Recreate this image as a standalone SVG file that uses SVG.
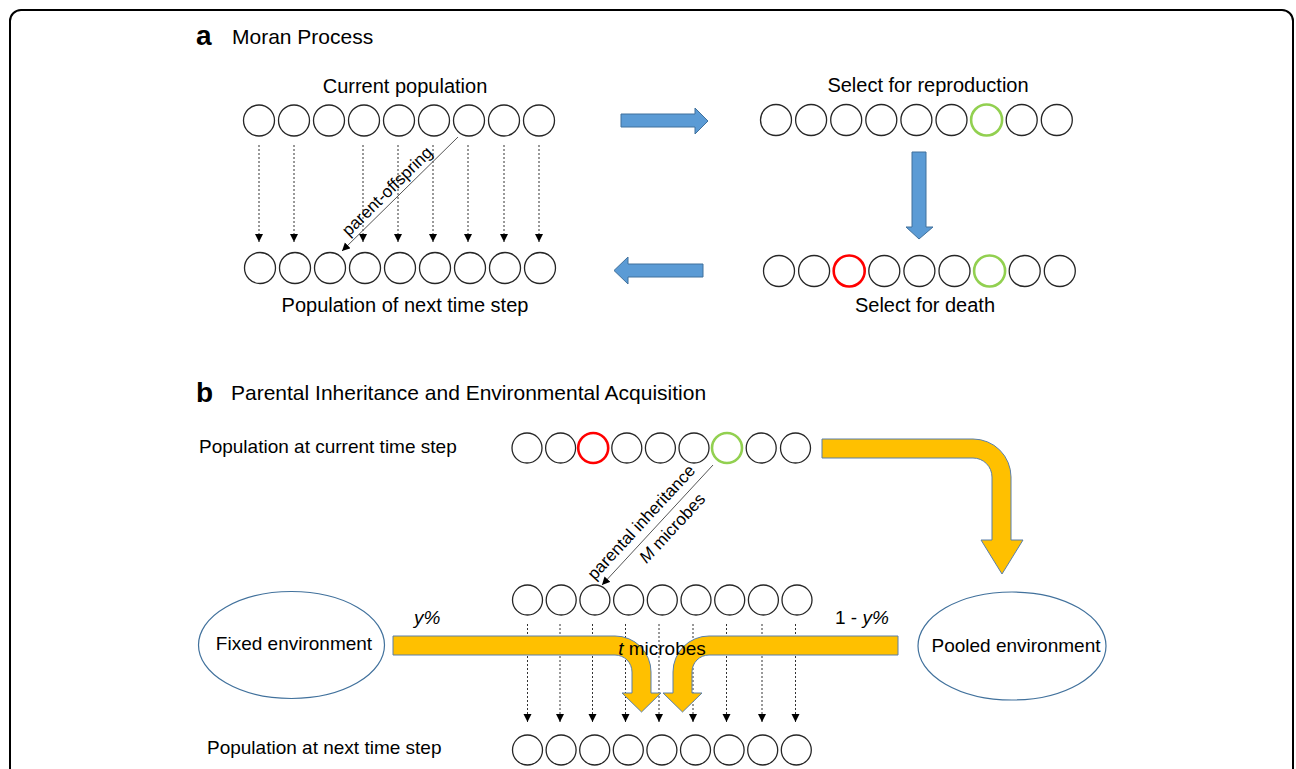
<svg xmlns="http://www.w3.org/2000/svg" width="1296" height="769" viewBox="0 0 1296 769">
<style>
text{font-family:"Liberation Sans",Arial,sans-serif;fill:#000}
.c{fill:#fff;stroke:#262626;stroke-width:1.3}
.g{fill:#fff;stroke:#92D050;stroke-width:2.6}
.r{fill:#fff;stroke:#FF0000;stroke-width:2.6}
.dot{stroke:#333;stroke-width:1;stroke-dasharray:2 2;fill:none}
.diag{stroke:#555;stroke-width:1;fill:none}
.blue{fill:#5B9BD5;stroke:#41719C;stroke-width:1}
.yel{fill:#FFC000;stroke:#5B7FA8;stroke-width:1}
.env{fill:#fff;stroke:#41719C;stroke-width:1.2}
.lbl{font-size:20px}
.lb{font-size:19px}
.hd{font-size:21px}
.let{font-size:28px;font-weight:bold}
.rot{font-size:17px}
</style>
<defs>
<marker id="ah" markerUnits="userSpaceOnUse" markerWidth="9" markerHeight="9" refX="8" refY="4" orient="auto">
<path d="M0,0 L8,4 L0,8 Z" fill="#000" stroke="none"/>
</marker>
</defs>
<rect x="10" y="10" width="1283" height="800" rx="11" fill="none" stroke="#000" stroke-width="2"/>

<g id="title-a"><text class="let" x="196" y="45">a</text><text class="hd" x="232" y="44">Moran Process</text></g>
<g id="title-b"><text class="let" x="196" y="402">b</text><text class="hd" x="231" y="400">Parental Inheritance and Environmental Acquisition</text></g>

<g id="connectors">
<g id="a-dotted">
<line class="dot" x1="259" y1="145" x2="259" y2="242" marker-end="url(#ah)"/>
<line class="dot" x1="294" y1="145" x2="294" y2="242" marker-end="url(#ah)"/>
<line class="dot" x1="363" y1="145" x2="363" y2="242" marker-end="url(#ah)"/>
<line class="dot" x1="398" y1="145" x2="398" y2="242" marker-end="url(#ah)"/>
<line class="dot" x1="433" y1="145" x2="433" y2="242" marker-end="url(#ah)"/>
<line class="dot" x1="468" y1="145" x2="468" y2="242" marker-end="url(#ah)"/>
<line class="dot" x1="504" y1="145" x2="504" y2="242" marker-end="url(#ah)"/>
<line class="dot" x1="539" y1="145" x2="539" y2="242" marker-end="url(#ah)"/>
</g>
<line class="diag" x1="458" y1="137" x2="342" y2="251" marker-end="url(#ah)"/>
<path class="blue" d="M621,114 L695,114 L695,108 L708,121 L695,134 L695,127 L621,127 Z"/>
<path class="blue" d="M912,152 L926,152 L926,227 L933,227 L919,239 L906,227 L912,227 Z"/>
<path class="blue" d="M703,264 L628,264 L628,257 L614,270.5 L628,284 L628,277 L703,277 Z"/>
<line class="diag" x1="713" y1="465" x2="602" y2="585" marker-end="url(#ah)"/>
<path class="yel" d="M822,439 L973,439 A38,38 0 0 1 1011,477 L1011,540 L1023,540 L1002,574 L981,540 L992,540 L992,477 A19,19 0 0 0 973,458 L822,458 Z"/>
<g id="b-dotted">
<line class="dot" x1="527.5" y1="624" x2="527.5" y2="722" marker-end="url(#ah)"/>
<line class="dot" x1="560" y1="624" x2="560" y2="722" marker-end="url(#ah)"/>
<line class="dot" x1="592.5" y1="624" x2="592.5" y2="722" marker-end="url(#ah)"/>
<line class="dot" x1="625.5" y1="624" x2="625.5" y2="722" marker-end="url(#ah)"/>
<line class="dot" x1="659" y1="624" x2="659" y2="722" marker-end="url(#ah)"/>
<line class="dot" x1="693" y1="624" x2="693" y2="722" marker-end="url(#ah)"/>
<line class="dot" x1="726.5" y1="624" x2="726.5" y2="722" marker-end="url(#ah)"/>
<line class="dot" x1="762" y1="624" x2="762" y2="722" marker-end="url(#ah)"/>
<line class="dot" x1="795.5" y1="624" x2="795.5" y2="722" marker-end="url(#ah)"/>
</g>
<path class="yel" d="M393,636 L615,636 A36,36 0 0 1 651,672 L651,693 L661,693 L641.5,712 L622,693 L632,693 L632,672 A17,17 0 0 0 615,655 L393,655 Z"/>
<path class="yel" d="M898,636 L709,636 A36,36 0 0 0 673,672 L673,693 L663,693 L682.5,712 L702,693 L692,693 L692,672 A17,17 0 0 1 709,655 L898,655 Z"/>
</g>

<g id="labels">
<text class="lbl" x="405" y="93" text-anchor="middle">Current population</text>
<text class="lbl" x="928" y="92" text-anchor="middle">Select for reproduction</text>
<text class="lbl" x="405" y="312" text-anchor="middle">Population of next time step</text>
<text class="lbl" x="925" y="312" text-anchor="middle">Select for death</text>
<text class="rot" transform="translate(387,191) rotate(-44.5)" x="0" y="6" text-anchor="middle">parent-offspring</text>
<text class="lb" x="199" y="453">Population at current time step</text>
<text class="lb" x="207" y="754">Population at next time step</text>
<text class="rot" transform="translate(641,522) rotate(-47.2)" x="0" y="6" text-anchor="middle">parental inheritance</text>
<text class="rot" transform="translate(672,528) rotate(-47.2)" x="0" y="6" text-anchor="middle"><tspan font-style="italic">M</tspan> microbes</text>
<text class="lb" x="414" y="624" font-style="italic">y%</text>
<text class="lb" x="835" y="624">1 - <tspan font-style="italic">y%</tspan></text>
<text class="lb" x="662" y="655" text-anchor="middle"><tspan font-style="italic">t</tspan> microbes</text>
</g>

<g id="fixed-env"><ellipse class="env" cx="291.5" cy="645" rx="93" ry="53.5"/><text class="lb" x="294" y="650" text-anchor="middle">Fixed environment</text></g>
<g id="pooled-env"><ellipse class="env" cx="1012" cy="646" rx="94" ry="54"/><text class="lb" x="1016" y="652" text-anchor="middle">Pooled environment</text></g>

<g id="a-current">
<g id="a-cur-0"><circle class="c" cx="259" cy="120.5" r="15.5"/></g>
<g id="a-cur-1"><circle class="c" cx="294" cy="120.5" r="15.5"/></g>
<g id="a-cur-2"><circle class="c" cx="329" cy="120.5" r="15.5"/></g>
<g id="a-cur-3"><circle class="c" cx="364" cy="120.5" r="15.5"/></g>
<g id="a-cur-4"><circle class="c" cx="399" cy="120.5" r="15.5"/></g>
<g id="a-cur-5"><circle class="c" cx="434" cy="120.5" r="15.5"/></g>
<g id="a-cur-6"><circle class="c" cx="469" cy="120.5" r="15.5"/></g>
<g id="a-cur-7"><circle class="c" cx="504" cy="120.5" r="15.5"/></g>
<g id="a-cur-8"><circle class="c" cx="539" cy="120.5" r="15.5"/></g>
</g>
<g id="a-next">
<g id="a-nxt-0"><circle class="c" cx="260" cy="268" r="15.5"/></g>
<g id="a-nxt-1"><circle class="c" cx="295" cy="268" r="15.5"/></g>
<g id="a-nxt-2"><circle class="c" cx="330" cy="268" r="15.5"/></g>
<g id="a-nxt-3"><circle class="c" cx="365" cy="268" r="15.5"/></g>
<g id="a-nxt-4"><circle class="c" cx="400" cy="268" r="15.5"/></g>
<g id="a-nxt-5"><circle class="c" cx="435" cy="268" r="15.5"/></g>
<g id="a-nxt-6"><circle class="c" cx="470" cy="268" r="15.5"/></g>
<g id="a-nxt-7"><circle class="c" cx="505" cy="268" r="15.5"/></g>
<g id="a-nxt-8"><circle class="c" cx="540" cy="268" r="15.5"/></g>
</g>
<g id="a-repro">
<g id="a-rep-0"><circle class="c" cx="776" cy="120" r="15.5"/></g>
<g id="a-rep-1"><circle class="c" cx="811.1" cy="120" r="15.5"/></g>
<g id="a-rep-2"><circle class="c" cx="846.2" cy="120" r="15.5"/></g>
<g id="a-rep-3"><circle class="c" cx="881.3" cy="120" r="15.5"/></g>
<g id="a-rep-4"><circle class="c" cx="916.4" cy="120" r="15.5"/></g>
<g id="a-rep-5"><circle class="c" cx="951.5" cy="120" r="15.5"/></g>
<g id="a-rep-6"><circle class="g" cx="986.6" cy="120" r="15.5"/></g>
<g id="a-rep-7"><circle class="c" cx="1021.7" cy="120" r="15.5"/></g>
<g id="a-rep-8"><circle class="c" cx="1056.8" cy="120" r="15.5"/></g>
</g>
<g id="a-death">
<g id="a-dth-0"><circle class="c" cx="779" cy="271" r="15.5"/></g>
<g id="a-dth-1"><circle class="c" cx="814.1" cy="271" r="15.5"/></g>
<g id="a-dth-2"><circle class="r" cx="849.2" cy="271" r="15.5"/></g>
<g id="a-dth-3"><circle class="c" cx="884.3" cy="271" r="15.5"/></g>
<g id="a-dth-4"><circle class="c" cx="919.4" cy="271" r="15.5"/></g>
<g id="a-dth-5"><circle class="c" cx="954.5" cy="271" r="15.5"/></g>
<g id="a-dth-6"><circle class="g" cx="989.6" cy="271" r="15.5"/></g>
<g id="a-dth-7"><circle class="c" cx="1024.7" cy="271" r="15.5"/></g>
<g id="a-dth-8"><circle class="c" cx="1059.8" cy="271" r="15.5"/></g>
</g>

<g id="b-current">
<g id="b-cur-0"><circle class="c" cx="527" cy="448" r="15"/></g>
<g id="b-cur-1"><circle class="c" cx="560.6" cy="448" r="15"/></g>
<g id="b-cur-2"><circle class="r" cx="593.2" cy="448" r="15"/></g>
<g id="b-cur-3"><circle class="c" cx="626.8" cy="448" r="15"/></g>
<g id="b-cur-4"><circle class="c" cx="660.4" cy="448" r="15"/></g>
<g id="b-cur-5"><circle class="c" cx="694" cy="448" r="15"/></g>
<g id="b-cur-6"><circle class="g" cx="727" cy="448" r="15"/></g>
<g id="b-cur-7"><circle class="c" cx="761.2" cy="448" r="15"/></g>
<g id="b-cur-8"><circle class="c" cx="795.5" cy="448" r="15"/></g>
</g>
<g id="b-offspring">
<g id="b-off-0"><circle class="c" cx="527.5" cy="600" r="15"/></g>
<g id="b-off-1"><circle class="c" cx="561.2" cy="600" r="15"/></g>
<g id="b-off-2"><circle class="c" cx="594.9" cy="600" r="15"/></g>
<g id="b-off-3"><circle class="c" cx="628.6" cy="600" r="15"/></g>
<g id="b-off-4"><circle class="c" cx="662.3" cy="600" r="15"/></g>
<g id="b-off-5"><circle class="c" cx="696" cy="600" r="15"/></g>
<g id="b-off-6"><circle class="c" cx="729.7" cy="600" r="15"/></g>
<g id="b-off-7"><circle class="c" cx="763.4" cy="600" r="15"/></g>
<g id="b-off-8"><circle class="c" cx="797" cy="600" r="15"/></g>
</g>
<g id="b-next">
<g id="b-nxt-0"><circle class="c" cx="527.5" cy="750" r="15"/></g>
<g id="b-nxt-1"><circle class="c" cx="561.1" cy="750" r="15"/></g>
<g id="b-nxt-2"><circle class="c" cx="594.7" cy="750" r="15"/></g>
<g id="b-nxt-3"><circle class="c" cx="628.3" cy="750" r="15"/></g>
<g id="b-nxt-4"><circle class="c" cx="661.9" cy="750" r="15"/></g>
<g id="b-nxt-5"><circle class="c" cx="695.5" cy="750" r="15"/></g>
<g id="b-nxt-6"><circle class="c" cx="729.1" cy="750" r="15"/></g>
<g id="b-nxt-7"><circle class="c" cx="762.7" cy="750" r="15"/></g>
<g id="b-nxt-8"><circle class="c" cx="796.3" cy="750" r="15"/></g>
</g>
</svg>
